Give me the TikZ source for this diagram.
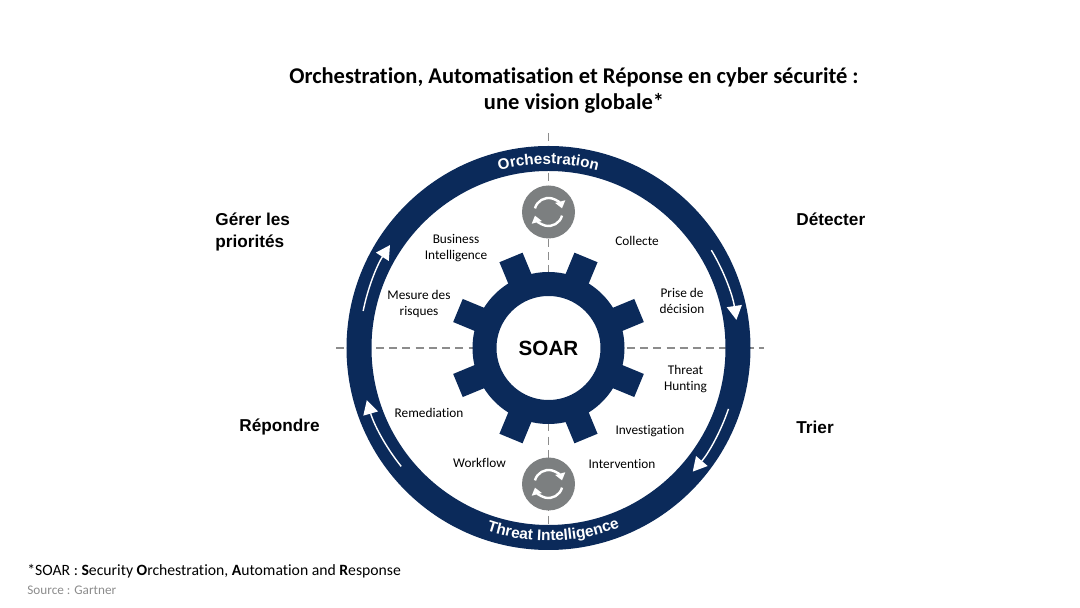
\documentclass[tikz,border=0pt]{standalone}
\usepackage{fontspec}
\setmainfont[Ligatures=NoCommon]{Carlito}
\newfontfamily\arialfont{Liberation Sans}
\usetikzlibrary{arrows.meta,decorations.text}
\definecolor{navy}{HTML}{0B2A5A}
\definecolor{syncgray}{HTML}{7C7F80}
\definecolor{axisgray}{HTML}{8C8C8C}

\begin{document}
\begin{tikzpicture}[x=.5pt, y=.5pt,
    main/.style = {align=center, font=\fontsize{6.65pt}{8pt}\selectfont},
    phase/.style = {align=left, inner sep=0pt, font=\arialfont\bfseries\fontsize{8.6pt}{11pt}\selectfont},
    hub/.style = {circle, draw=navy, line width=12pt, fill=white, inner sep=0pt, minimum size=64pt, font=\arialfont\bfseries\fontsize{10.3pt}{12pt}\selectfont},
    sync/.style = {circle, fill=syncgray, inner sep=0pt, minimum size=26.5pt},
    flow/.style = {white, line width=.7pt, -{Triangle[width=7.5pt,length=7pt]}},
    axis/.style = {axisgray, line width=.6pt, dash pattern=on 4pt off 2.6pt},
    refresh/.pic = {
        \draw[white, line width=1.2pt, -{Triangle[width=5pt,length=3.5pt]}] (165:14) arc (165:15:14);
        \draw[white, line width=1.2pt, -{Triangle[width=5pt,length=3.5pt]}] (-15:14) arc (-15:-165:14);
    }]
        \useasboundingbox (-548.5,-260) rectangle (531.5,348);
        \node[font=\bfseries\fontsize{11.25pt}{13pt}\selectfont, align=center] (title) at (25.5,257.5) {Orchestration, Automatisation et Réponse en cyber sécurité :\\une vision globale*};

        % axes
        \coordinate (w) at (-212,0);
        \coordinate (e) at (215,0);
        \coordinate (n) at (0,215);
        \coordinate (s) at (0,-207);
        \draw[axis] (w) -- (e);
        \draw[axis] (n) -- (s);

        % ring
        \draw[navy, line width=12.5pt] (0,0) circle (189.5);
        \path[decorate, decoration={text along path, text align=center, text color=white, text={|\arialfont\bfseries\fontsize{7.6pt}{9pt}\selectfont|Orchestration}}] (112:184) arc (112:68:184);
        \path[decorate, decoration={text along path, text align=center, text color=white, text={|\arialfont\bfseries\fontsize{7.7pt}{9pt}\selectfont|Threat Intelligence}}] (240.5:193) arc (240.5:302.5:193);

        \coordinate (a1) at (31:190);
        \coordinate (a2) at (-18.7:190);
        \coordinate (a3) at (218.8:189);
        \coordinate (a4) at (168.7:189);
        \draw[flow] (a1) arc (31:8.5:190);
        \draw[flow] (a2) arc (-18.7:-40.6:190);
        \draw[flow] (a3) arc (218.8:196:189);
        \draw[flow] (a4) arc (168.7:147:189);

        % gear
        \foreach \a in {22.5,67.5,...,337.5}
            \fill[navy, rotate=\a] (60,-12.5) rectangle (98,12.5);
        \node[hub] (soar) at (0,0) {SOAR};

        \node[sync] (top) at (0,136) {};
        \node[sync] (bottom) at (0,-136) {};
        \pic at (top) {refresh};
        \pic at (bottom) {refresh};

        \node[main] (bi) at (-92.5,100) {Business\\Intelligence};
        \node[main] (collecte) at (88.5,107) {Collecte};
        \node[main] (mesure) at (-129.5,44) {Mesure des\\risques};
        \node[main] (prise) at (133.5,47) {Prise de\\décision};
        \node[main] (hunting) at (137,-31) {Threat\\Hunting};
        \node[main] (remediation) at (-119.5,-65) {Remediation};
        \node[main] (investigation) at (101.5,-83) {Investigation};
        \node[main] (workflow) at (-69,-115) {Workflow};
        \node[main] (intervention) at (73.5,-116) {Intervention};

        \node[phase, anchor=west] (gerer) at (-333.5,116) {Gérer les\\priorités};
        \node[phase, anchor=west] (detecter) at (247.5,129) {Détecter};
        \node[phase, anchor=west] (trier) at (247.5,-79) {Trier};
        \node[phase, anchor=west] (repondre) at (-309.5,-79) {Répondre};

        \node[anchor=west, inner sep=0pt, font=\fontsize{7.85pt}{9pt}\selectfont] (note) at (-521.5,-223) {*SOAR : \textbf{S}ecurity \textbf{O}rchestration, \textbf{A}utomation and \textbf{R}esponse};
        \node[anchor=west, inner sep=0pt, text=axisgray, font=\fontsize{6.6pt}{8pt}\selectfont] (source) at (-521.5,-242) {Source : Gartner};
    \end{tikzpicture}
\end{document}
